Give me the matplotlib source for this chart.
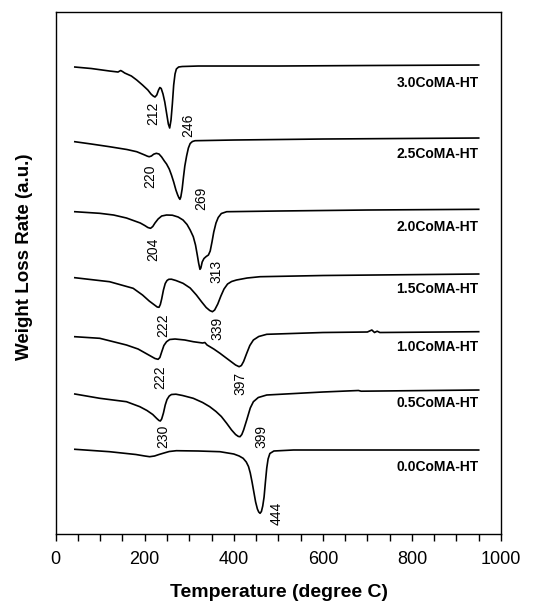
import matplotlib
matplotlib.use("Agg")
import matplotlib.pyplot as plt
from matplotlib.ticker import MultipleLocator

plt.rcParams['font.family'] = ['Liberation Sans', 'DejaVu Sans']

# DTG curves (temperature in degree C, signal in a.u., already stacked)
t30 = [43, 80, 121, 140, 146, 150, 155, 170, 182, 195, 207, 214, 219, 223, 227, 231, 234, 237,
       241, 245, 249, 253, 256, 259, 262, 265, 268, 271, 276, 284, 320, 500, 700, 950]
y30 = [467, 465.5, 463, 462, 463.5, 462.5, 461, 458, 454, 449, 444, 440, 438, 437, 439, 444, 446.5,
       445.5, 440, 432, 421, 410, 406, 414, 430, 449, 460, 465, 467, 467.5, 468, 468, 468.5, 469]

t25 = [43, 80, 121, 160, 182, 200, 206, 210, 215, 220, 226, 232, 238, 244, 249, 255, 260, 265,
       270, 274, 277, 279, 281, 284, 287, 290, 294, 298, 302, 307, 313, 400, 600, 950]
y25 = [392.3, 390, 387.3, 384.5, 382.3, 379, 377.8, 377.3, 378, 379.8, 380.7, 380, 377, 373, 370,
       365, 359, 352, 344, 339, 336, 334.7, 337, 345, 357, 368, 378, 386, 390.5, 392.5, 393.3, 394,
       395, 396]

t20 = [43, 99, 130, 159, 190, 200, 207, 213, 218, 223, 230, 238, 249, 262, 275, 286, 295, 302,
       309, 314, 318, 321, 324, 326, 329, 333, 338, 343, 347, 351, 355, 360, 365, 372, 384, 500,
       700, 950]
y20 = [322.3, 320.7, 319, 316, 311, 308.5, 306.5, 305.7, 307.5, 311, 315, 318, 319, 318.8, 317,
       314, 309.5, 304, 297.3, 289, 279, 271, 264.7, 266, 272, 275.5, 277.5, 279, 283, 292, 302,
       311, 316.5, 320.5, 322.3, 323, 324, 324.7]

t15 = [43, 121, 174, 195, 210, 222, 228, 232, 235, 238, 242, 246, 250, 254, 260, 270, 286, 302,
       316, 328, 338, 346, 352, 357, 364, 371, 378, 386, 395, 406, 430, 459, 600, 950]
y15 = [256.3, 252.3, 245.7, 239, 233, 229, 227, 226.7, 229.5, 235, 244, 250.5, 253.5, 254.7, 254.8,
       253.5, 250.7, 246, 239, 232, 226.5, 223.5, 222.3, 224, 230, 238, 245, 250, 252.5, 254, 256,
       257.3, 258.5, 260]

t10 = [43, 99, 159, 185, 203, 215, 223, 230, 234, 238, 243, 249, 256, 268, 290, 309, 330, 335,
       340, 355, 369, 383, 395, 404, 412, 417, 422, 429, 436, 444, 456, 474, 600, 700, 710, 716,
       722, 728, 950]
y10 = [197.3, 195.7, 189, 185, 180.5, 177.5, 175.5, 174.7, 176.5, 182, 188.5, 192.3, 194.5, 195,
       194, 192.3, 191, 191.5, 189, 185, 180.7, 176, 172, 169, 167.3, 168.5, 172.5, 180.7, 188.5,
       194, 197.5, 199.7, 201.5, 202, 204, 201.5, 202.8, 201.5, 202.3]

t05 = [43, 99, 159, 189, 205, 218, 227, 232, 235, 238, 242, 246, 250, 255, 260, 270, 285, 309,
       330, 346, 360, 372, 384, 395, 404, 410, 414, 418, 422, 429, 437, 444, 455, 474, 600, 680,
       686, 950]
y05 = [140, 135.7, 132.3, 127.3, 123.5, 119.5, 115.5, 113.5, 113, 115, 121, 129, 134.5, 138, 139.5,
       139.8, 138.5, 135.7, 131.5, 127.3, 122.5, 117.5, 110.7, 104, 99.5, 97.6, 97.3, 99.5, 104, 114,
       126, 132.3, 136.5, 139, 142, 143.5, 142.8, 144]

t00 = [43, 121, 180, 200, 211, 222, 232, 241, 255, 271, 320, 369, 400, 412, 421, 428, 433, 437,
       441, 445, 449, 453, 456, 459, 462, 465, 468, 471, 474, 477, 481, 490, 534, 950]
y00 = [84.7, 82.3, 79.5, 78, 77.3, 78, 79.5, 80.7, 82.5, 83.3, 83, 82.3, 80, 78, 75.7, 72, 67.5, 61,
       52, 42, 32, 25, 22, 20.7, 22.5, 28, 37, 52, 66, 75, 80.5, 83, 84, 84]

curve_t = [t30, t25, t20, t15, t10, t05, t00]
curve_y = [y30, y25, y20, y15, y10, y05, y00]

sample_names = ['3.0CoMA-HT', '2.5CoMA-HT', '2.0CoMA-HT', '1.5CoMA-HT',
                '1.0CoMA-HT', '0.5CoMA-HT', '0.0CoMA-HT']
name_y = [451, 380, 307.3, 245, 187, 130.7, 67.3]

# peak temperature labels
peak_text = ['212', '246', '220', '269', '204', '313', '222', '339', '222', '397', '230', '399', '444']
peak_x = [219, 298, 213, 326, 218, 360, 242, 364, 234, 414, 242, 461, 496]
peak_y = [420.7, 409, 357.3, 335.7, 284.7, 262.3, 209, 205.7, 157.3, 150.7, 97.3, 97.3, 20.7]

fig = plt.figure(figsize=(5.37, 6.04), dpi=100)
ax = fig.add_axes([0.1037, 0.1159, 0.8292, 0.8642])

for t, y in zip(curve_t, curve_y):
    ax.plot(t, y, color='black', lw=1.2, solid_joinstyle='round')

for name, y in zip(sample_names, name_y):
    ax.text(950, y, name, ha='right', va='center', fontsize=10, fontweight='bold')

for s, x, y in zip(peak_text, peak_x, peak_y):
    ax.text(x, y, s, rotation=90, ha='center', va='center', fontsize=10)

ax.set_xlim(0, 1000)
ax.set_ylim(0, 522)
ax.xaxis.set_major_locator(MultipleLocator(200))
ax.xaxis.set_minor_locator(MultipleLocator(50))
ax.tick_params(axis='x', which='both', direction='out', length=5, width=1, labelsize=13, pad=7)
ax.set_yticks([])
for sp in ax.spines.values():
    sp.set_linewidth(1.0)

fig.text(0.5196, 0.011, 'Temperature (degree C)', ha='center', va='baseline',
         fontsize=14, fontweight='bold')
fig.text(0.045, 0.575, 'Weight Loss Rate (a.u.)', rotation=90, ha='center', va='center',
         fontsize=13.5, fontweight='bold')

fig.savefig('out.png', dpi=100)
